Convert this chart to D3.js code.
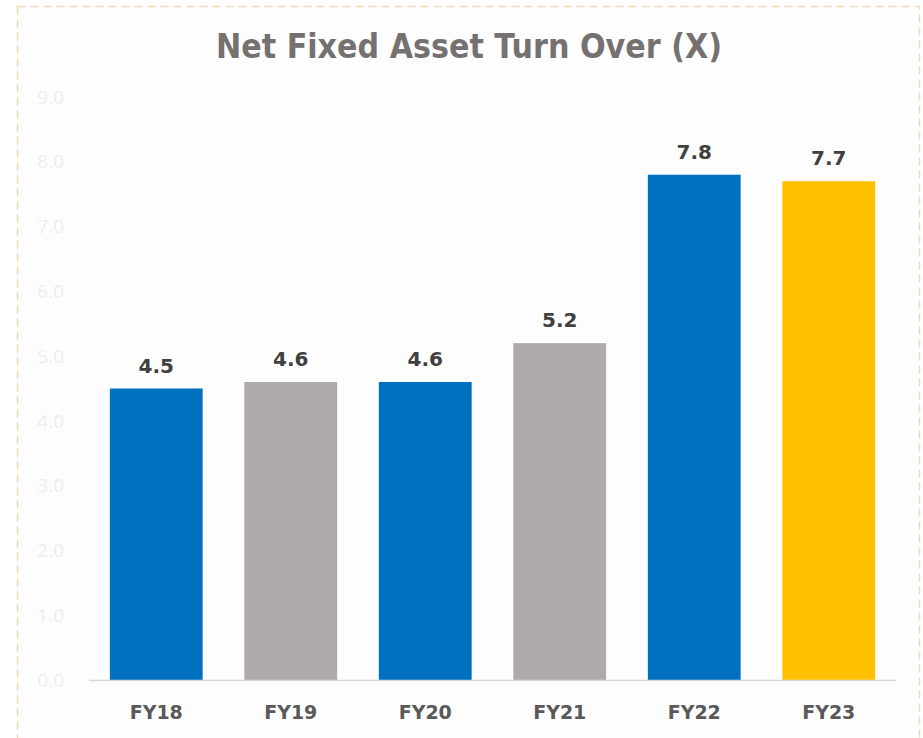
<!DOCTYPE html>
<html>
<head>
<meta charset="utf-8">
<script src="https://cdn.jsdelivr.net/npm/d3@7"></script>
<style>
  body { margin: 0; background: #ffffff; }
  .chart { width: 923px; height: 738px; }
</style>
</head>
<body>
<div class="chart"></div>
<script>
(function chart() {

  'use strict';

  var categories = ['FY18', 'FY19', 'FY20', 'FY21', 'FY22', 'FY23'];
  var values = [4.5, 4.6, 4.6, 5.2, 7.8, 7.7];
  var barColors = ['#0070C0', '#AEAAAA', '#0070C0', '#AEAAAA', '#0070C0', '#FFC000'];
  var yTicks = [0, 1, 2, 3, 4, 5, 6, 7, 8, 9];

  var width = 923;
  var height = 738;

  var plot = { left: 89, right: 896, top: 97, bottom: 680 };

  var svg = d3.select('.chart').append('svg')
    .attr('width', width)
    .attr('height', height);

  // panel background and dashed frame
  svg.append('rect')
    .attr('x', 17.5)
    .attr('y', 6.5)
    .attr('width', 902)
    .attr('height', 740)
    .attr('fill', '#fdfdfd')
    .attr('stroke', '#f0dab4')
    .attr('stroke-width', 1.5)
    .attr('stroke-dasharray', '8,5');

  // title is a condensed face in the original, so squeeze it to width
  svg.append('text')
    .attr('x', 469)
    .attr('y', 58)
    .attr('text-anchor', 'middle')
    .attr('font-family', '"DejaVu Sans", sans-serif')
    .attr('font-weight', 'bold')
    .attr('font-size', 34)
    .attr('textLength', 506)
    .attr('lengthAdjust', 'spacingAndGlyphs')
    .attr('fill', '#767171')
    .text('Net Fixed Asset Turn Over (X)');

  var x = d3.scaleBand()
    .domain(categories)
    .range([plot.left, plot.right])
    .paddingInner(0.31)
    .paddingOuter(0.155);

  var y = d3.scaleLinear()
    .domain([0, 9])
    .range([plot.bottom, plot.top]);

  // y tick labels (very faint)
  svg.append('g')
    .selectAll('text')
    .data(yTicks)
    .enter()
    .append('text')
      .attr('x', 64)
      .attr('y', function (d) { return y(d); })
      .attr('dy', '0.35em')
      .attr('text-anchor', 'end')
      .attr('font-family', '"Open Sans", sans-serif')
      .attr('font-size', 19)
      .attr('fill', '#eeeeee')
      .text(function (d) { return d3.format('.1f')(d); });

  svg.selectAll('.bar')
    .data(values)
    .enter()
    .append('rect')
      .attr('class', 'bar')
      .attr('x', function (d, i) { return x(categories[i]); })
      .attr('y', function (d) { return y(d); })
      .attr('width', x.bandwidth())
      .attr('height', function (d) { return y(0) - y(d); })
      .attr('fill', function (d, i) { return barColors[i]; });

  // baseline
  svg.append('line')
    .attr('x1', plot.left)
    .attr('x2', plot.right)
    .attr('y1', y(0) + 0.5)
    .attr('y2', y(0) + 0.5)
    .attr('stroke', '#d9d9d9')
    .attr('stroke-width', 1.5);

  svg.selectAll('.value')
    .data(values)
    .enter()
    .append('text')
      .attr('class', 'value')
      .attr('x', function (d, i) { return x(categories[i]) + x.bandwidth() / 2; })
      .attr('y', function (d) { return y(d) - 16; })
      .attr('text-anchor', 'middle')
      .attr('font-family', '"DejaVu Sans", sans-serif')
      .attr('font-weight', 'bold')
      .attr('font-size', 20)
      .attr('fill', '#404040')
      .text(function (d) { return d3.format('.1f')(d); });

  svg.selectAll('.cat')
    .data(categories)
    .enter()
    .append('text')
      .attr('class', 'cat')
      .attr('x', function (d) { return x(d) + x.bandwidth() / 2; })
      .attr('y', 719)
      .attr('text-anchor', 'middle')
      .attr('font-family', '"DejaVu Sans", sans-serif')
      .attr('font-weight', 'bold')
      .attr('font-size', 19)
      .attr('fill', '#595959')
      .text(function (d) { return d; });
})();
</script>
</body>
</html>
